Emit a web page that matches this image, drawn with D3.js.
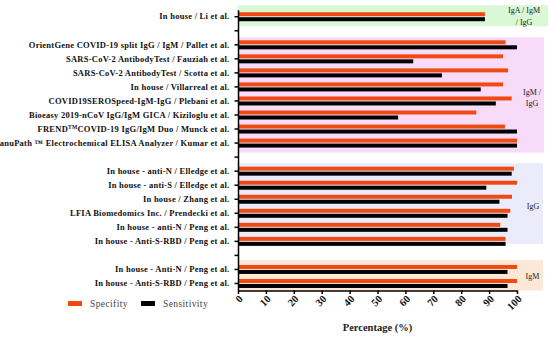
<!DOCTYPE html>
<html>
<head>
<meta charset="utf-8">
<script src="https://cdn.jsdelivr.net/npm/d3@7"></script>
<style>
  body { margin: 0; background: #fff; }
  svg { display: block; font-family: "Liberation Serif", "DejaVu Serif", serif; }
  .axis { font-family: "Liberation Serif", "DejaVu Serif", serif; }
  .axis path, .axis line { stroke: #000; stroke-width: 1.5; }
  .ylab text { font-size: 8.5px; font-weight: bold; fill: #111; letter-spacing: 0.25px; }
  .xlab text { font-size: 10.5px; font-weight: bold; fill: #111; }
</style>
</head>
<body>
<svg id="chart" width="550" height="338"></svg>
<script>
// rows top to bottom, "" = spacer row between groups
const studies = [
  "In house / Li et al.",
  "",
  "OrientGene COVID-19 split IgG / IgM / Pallet et al.",
  "SARS-CoV-2 AntibodyTest / Fauziah et al.",
  "SARS-CoV-2 AntibodyTest / Scotta et al.",
  "In house / Villarreal et al.",
  "COVID19SEROSpeed-IgM-IgG / Plebani et al.",
  "Bioeasy 2019-nCoV IgG/IgM GICA / Kiziloglu et al.",
  "FREND|TM|COVID-19 IgG/IgM Duo / Munck et al.",
  "anuPath \u2122 Electrochemical ELISA Analyzer / Kumar et al.",
  "",
  "In house - anti-N / Elledge et al.",
  "In house - anti-S / Elledge et al.",
  "In house / Zhang et al. ",
  "LFIA Biomedomics Inc. / Prendecki et al.",
  "In house - anti-N / Peng et al. ",
  "In house - Anti-S-RBD / Peng et al.",
  "",
  "In house - Anti-N / Peng et al.",
  "In house - Anti-S-RBD / Peng et al."
];
const specificity = [88.5, null, 95.9, 95.0, 96.8, 95.0, 98.1, 85.4, 95.7, 100, null, 98.9, 100, 98.2, 97.6, 94.0, 95.9, null, 100, 100];
const sensitivity = [88.5, null, 100, 62.8, 73.1, 87.0, 92.4, 57.4, 100, 100, null, 98.1, 89.0, 93.7, 96.6, 96.6, 95.9, null, 96.6, 96.6];

const groupNames = [["IgA / IgM", "/ IgG"], ["IgM /", "IgG"], ["IgG"], ["IgM"]];
const groupFirst = [0, 2, 11, 18];
const groupLast = [0, 9, 16, 19];

const xTicks = [0, 10, 20, 30, 40, 50, 60, 70, 80, 90, 100];
const seriesNames = ["Specifity", "Sensitivity"];

// styling
const seriesColors = ["#f04a12", "#000000"];
const groupColors = ["#d9f8d6", "#f8dbf8", "#ebebfb", "#fde8d8"];
const groupPad = [[4.5, 2.5], [0.5, 2.5], [1, -4.5], [2.5, 0]];
const groupRight = [548, 544, 543, 543];
const groupLabelX = [524, 532, 533, 532.5];
const groupLabelDy = [0, 2.5, 2, 1];

const svg = d3.select('#chart');
const rows = studies.map((d, i) => i);

const x = d3.scaleLinear().domain([0, 100]).range([238, 517]);
const y = d3.scaleBand().domain(rows).range([9.7, 290.5]);
const bw = y.bandwidth();

// group shading
groupFirst.forEach((g, i) => {
  const top = y(g) - groupPad[i][0];
  const bot = Math.min(y(groupLast[i]) + bw + groupPad[i][1], y.range()[1]);
  svg.append('rect')
    .attr('x', x(0))
    .attr('y', top)
    .attr('width', groupRight[i] - x(0))
    .attr('height', bot - top)
    .attr('fill', groupColors[i]);

  const lines = groupNames[i];
  const mid = (top + bot) / 2;
  svg.append('text')
    .attr('x', groupLabelX[i])
    .attr('y', mid - (lines.length - 1) * 5.8 + 3 + groupLabelDy[i])
    .attr('text-anchor', 'middle')
    .style('font-size', '8px')
    .style('fill', '#222')
    .selectAll('tspan')
    .data(lines)
    .join('tspan')
      .attr('x', groupLabelX[i])
      .attr('dy', (d, j) => j === 0 ? 0 : 11.6)
      .text(d => d);
});

// bars
const barH = 4;
rows.forEach(i => {
  if (specificity[i] == null) return;
  const c = y(i) + bw / 2;
  svg.append('rect')
    .attr('x', x(0))
    .attr('y', c - 4.5)
    .attr('width', x(specificity[i]) - x(0))
    .attr('height', barH)
    .attr('fill', seriesColors[0]);
  svg.append('rect')
    .attr('x', x(0))
    .attr('y', c + 0.5)
    .attr('width', x(sensitivity[i]) - x(0))
    .attr('height', barH)
    .attr('fill', seriesColors[1]);
});

// y axis
const yAxis = svg.append('g')
  .attr('class', 'axis ylab')
  .attr('transform', `translate(${x(0)},0)`)
  .call(d3.axisLeft(y).tickSize(3.5).tickSizeOuter(0).tickPadding(5).tickFormat(i => studies[i]));
yAxis.attr('font-family', null).attr('font-size', null);
yAxis.selectAll('text')
  .each(function(i) {
    const t = studies[i];
    if (t.includes('|')) {
      const parts = t.split('|');
      const el = d3.select(this).text('');
      el.append('tspan').text(parts[0]);
      el.append('tspan').attr('dy', -3).style('font-size', '5.5px').text(parts[1]);
      el.append('tspan').attr('dy', 3).text(parts[2]);
    }
  });

// x axis
const xAxis = svg.append('g')
  .attr('class', 'axis xlab')
  .attr('transform', `translate(0,${y.range()[1]})`)
  .call(d3.axisBottom(x).tickValues(xTicks).tickSize(3.5).tickSizeOuter(0));
xAxis.attr('font-family', null).attr('font-size', null);
xAxis.selectAll('text')
  .attr('y', 0).attr('dy', 0)
  .attr('text-anchor', 'end')
  .attr('transform', 'translate(5,9) rotate(-45)');

svg.append('text')
  .attr('x', (x(0) + x(100)) / 2)
  .attr('y', 331)
  .attr('text-anchor', 'middle')
  .style('font-size', '10.5px')
  .style('font-weight', 'bold')
  .style('fill', '#222')
  .text('Percentage (%)');

// legend
const legend = svg.append('g').attr('transform', 'translate(68,301)');
seriesNames.forEach((s, i) => {
  const g = legend.append('g').attr('transform', `translate(${i * 73},0)`);
  g.append('rect').attr('width', 14).attr('height', 5).attr('fill', seriesColors[i]);
  g.append('text')
    .attr('x', 22).attr('y', 6)
    .style('font-size', '9.5px')
    .style('letter-spacing', '0.4px')
    .style('fill', '#444')
    .text(s);
});
</script>
</body>
</html>
